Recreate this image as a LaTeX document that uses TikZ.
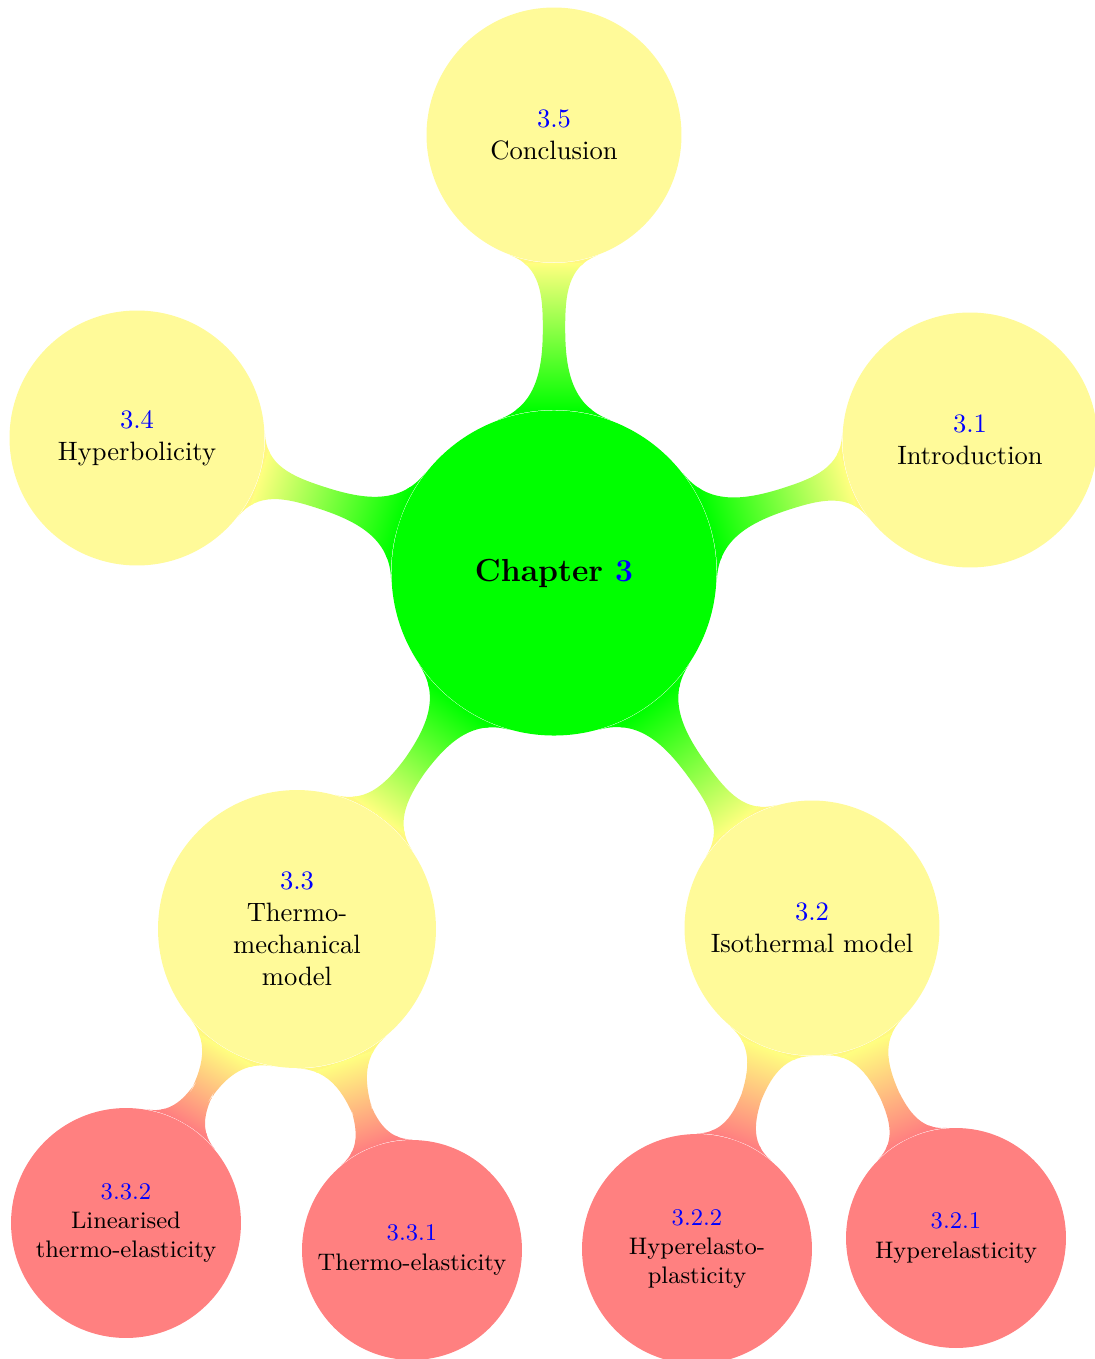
\documentclass[tikz,border=0pt]{standalone}
\usetikzlibrary{mindmap,backgrounds}
\begin{document}
\begin{tikzpicture}[x=0.013228cm,y=-0.013228cm]
\tikzset{
  cnode/.style={circle, inner sep=0pt, align=center, draw=none},
  rootc/.style={cnode, fill=green, minimum size=4.30cm, font=\large\bfseries},
  lvone/.style={cnode, fill=yellow!40, minimum size=3.373cm},
  lvtwo/.style={cnode, fill=red!50, minimum size=2.91cm, font=\small},
  barA/.style={circle connection bar switch color=from (green) to (yellow!50)},
  barB/.style={circle connection bar switch color=from (yellow!50) to (red!50)}
}
\useasboundingbox (0,0) rectangle (1095,1359);
\node[rootc] (root) at (554,573) {Chapter \textcolor{blue}{3}};
\node[lvone] (c1) at (970,440) {\textcolor{blue}{3.1}\\Introduction};
\node[lvone] (c2) at (812,928) {\textcolor{blue}{3.2}\\Isothermal model};
\node[lvone, minimum size=3.677cm] (c3) at (297,929) {\textcolor{blue}{3.3}\\Thermo-\\mechanical\\model};
\node[lvone] (c4) at (137,438) {\textcolor{blue}{3.4}\\Hyperbolicity};
\node[lvone] (c5) at (554,135) {\textcolor{blue}{3.5}\\Conclusion};
\node[lvtwo] (c21) at (956,1238) {\textcolor{blue}{3.2.1}\\Hyperelasticity};
\node[lvtwo, minimum size=3.042cm] (c22) at (697,1249) {\textcolor{blue}{3.2.2}\\Hyperelasto-\\plasticity};
\node[lvtwo] (c31) at (412,1250) {\textcolor{blue}{3.3.1}\\Thermo-elasticity};
\node[lvtwo, minimum size=3.042cm] (c32) at (126,1223) {\textcolor{blue}{3.3.2}\\Linearised\\thermo-elasticity};
\begin{scope}[on background layer]
\path (root) to[barA] (c1);
\path (root) to[barA] (c2);
\path (root) to[barA] (c3);
\path (root) to[barA] (c4);
\path (root) to[barA] (c5);
\path (c2) to[barB] (c21);
\path (c2) to[barB] (c22);
\path (c3) to[barB] (c31);
\path (c3) to[barB] (c32);
\end{scope}
\end{tikzpicture}
\end{document}
